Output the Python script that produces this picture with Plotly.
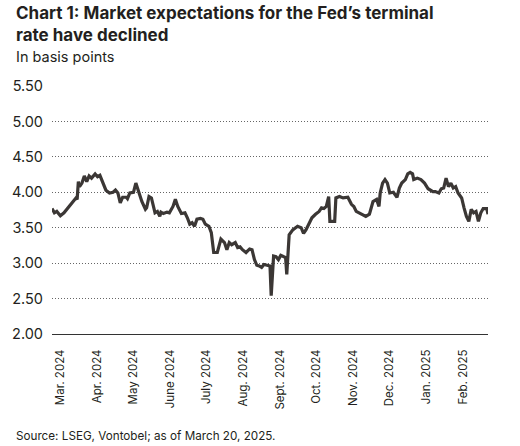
import plotly.graph_objects as go

# terminal rate expectations
dates = [
    "2024-03-01", "2024-03-03", "2024-03-05", "2024-03-08", "2024-03-11", "2024-03-15",
    "2024-03-18", "2024-03-21", "2024-03-22", "2024-03-23", "2024-03-24", "2024-03-26",
    "2024-03-28", "2024-03-30", "2024-04-01", "2024-04-03", "2024-04-06", "2024-04-08",
    "2024-04-10", "2024-04-12", "2024-04-15", "2024-04-18", "2024-04-21", "2024-04-23",
    "2024-04-25", "2024-04-27", "2024-04-29", "2024-05-02", "2024-05-03", "2024-05-05",
    "2024-05-08", "2024-05-10", "2024-05-12", "2024-05-15", "2024-05-18", "2024-05-19",
    "2024-05-21", "2024-05-23", "2024-05-26", "2024-05-28", "2024-05-30", "2024-05-31",
    "2024-06-02", "2024-06-05", "2024-06-07", "2024-06-09", "2024-06-10", "2024-06-12",
    "2024-06-14", "2024-06-17", "2024-06-20", "2024-06-22", "2024-06-24", "2024-06-26",
    "2024-06-28", "2024-06-30", "2024-07-03", "2024-07-05", "2024-07-07", "2024-07-10",
    "2024-07-12", "2024-07-14", "2024-07-17", "2024-07-20", "2024-07-23", "2024-07-25",
    "2024-07-27", "2024-07-29", "2024-08-01", "2024-08-03", "2024-08-05", "2024-08-07",
    "2024-08-10", "2024-08-13", "2024-08-15", "2024-08-17", "2024-08-19", "2024-08-21",
    "2024-08-23", "2024-08-25", "2024-08-29", "2024-08-30", "2024-08-31", "2024-09-02",
    "2024-09-04", "2024-09-06", "2024-09-08", "2024-09-10", "2024-09-12", "2024-09-13",
    "2024-09-14", "2024-09-15", "2024-09-18", "2024-09-20", "2024-09-22", "2024-09-25",
    "2024-09-27", "2024-09-29", "2024-10-02", "2024-10-04", "2024-10-07", "2024-10-10",
    "2024-10-12", "2024-10-14", "2024-10-16", "2024-10-18", "2024-10-19", "2024-10-23",
    "2024-10-24", "2024-10-27", "2024-10-30", "2024-11-03", "2024-11-06", "2024-11-08",
    "2024-11-10", "2024-11-13", "2024-11-15", "2024-11-18", "2024-11-21", "2024-11-23",
    "2024-11-24", "2024-11-27", "2024-11-29", "2024-11-30", "2024-12-02", "2024-12-04",
    "2024-12-06", "2024-12-08", "2024-12-11", "2024-12-14", "2024-12-16", "2024-12-18",
    "2024-12-21", "2024-12-23", "2024-12-25", "2024-12-27", "2024-12-28", "2024-12-31",
    "2025-01-03", "2025-01-06", "2025-01-09", "2025-01-13", "2025-01-15", "2025-01-18",
    "2025-01-20", "2025-01-22", "2025-01-24", "2025-01-26", "2025-01-28", "2025-01-30",
    "2025-02-01", "2025-02-03", "2025-02-06", "2025-02-08", "2025-02-10", "2025-02-12",
    "2025-02-14", "2025-02-16", "2025-02-18", "2025-02-20", "2025-02-22", "2025-02-24",
    "2025-02-27", "2025-02-28",
]
terminal_rate = [
    3.77, 3.71, 3.73, 3.67, 3.71, 3.80,
    3.87, 3.92, 3.90, 4.15, 4.08, 4.13,
    4.23, 4.15, 4.23, 4.20, 4.26, 4.22,
    4.24, 4.15, 4.03, 3.99, 4.00, 4.03,
    3.99, 3.85, 3.93, 3.93, 3.91, 3.99,
    4.00, 4.13, 4.01, 3.87, 3.76, 3.78,
    3.94, 3.92, 3.71, 3.73, 3.66, 3.72,
    3.70, 3.72, 3.71, 3.78, 3.80, 3.90,
    3.80, 3.70, 3.71, 3.64, 3.55, 3.57,
    3.52, 3.62, 3.63, 3.62, 3.55, 3.52,
    3.43, 3.15, 3.15, 3.34, 3.29, 3.19,
    3.29, 3.26, 3.29, 3.22, 3.23, 3.19,
    3.15, 3.20, 3.19, 3.05, 2.97, 2.96,
    2.94, 2.98, 2.97, 2.96, 2.54, 3.10,
    3.09, 3.05, 3.11, 3.10, 3.08, 2.84,
    3.10, 3.40, 3.47, 3.50, 3.52, 3.50,
    3.42, 3.47, 3.57, 3.64, 3.69, 3.73,
    3.78, 3.77, 3.80, 3.94, 3.59, 3.59,
    3.92, 3.94, 3.92, 3.93, 3.83, 3.80,
    3.73, 3.70, 3.69, 3.66, 3.69, 3.80,
    3.87, 3.90, 3.80, 3.99, 4.13, 4.18,
    4.13, 3.99, 4.00, 3.93, 4.06, 4.13,
    4.18, 4.26, 4.28, 4.26, 4.18, 4.20,
    4.18, 4.13, 4.05, 4.01, 4.01, 3.99,
    4.05, 4.06, 4.20, 4.08, 4.13, 4.06,
    4.08, 3.99, 3.92, 3.78, 3.66, 3.59,
    3.76, 3.71, 3.73, 3.59, 3.71, 3.77,
    3.77, 3.69,
]

month_ticks = [
    "2024-03-01", "2024-04-01", "2024-05-01", "2024-06-01", "2024-07-01", "2024-08-01",
    "2024-09-01", "2024-10-01", "2024-11-01", "2024-12-01", "2025-01-01", "2025-02-01",
]
month_labels = [
    "Mar. 2024", "Apr. 2024", "May 2024", "June 2024", "July 2024", "Aug. 2024",
    "Sept. 2024", "Oct. 2024", "Nov. 2024", "Dec. 2024", "Jan. 2025", "Feb. 2025",
]
y_ticks = [2.0, 2.5, 3.0, 3.5, 4.0, 4.5, 5.0, 5.5]

font = "Inter, Liberation Sans, Arial, sans-serif"
ink = "#231f20"

# plot box in page pixels
left, right, top, bottom = 39, 488, 86, 334
pw, ph = right - left, bottom - top

fig = go.Figure()
fig.add_trace(go.Scatter(
    x=dates,
    y=terminal_rate,
    mode="lines",
    line=dict(color="#3b3735", width=3.2),
    hoverinfo="skip",
))

fig.update_layout(
    width=520,
    height=446,
    margin=dict(l=left, r=520 - right, t=top, b=446 - bottom, pad=0),
    paper_bgcolor="white",
    plot_bgcolor="white",
    showlegend=False,
    hovermode=False,
    font=dict(family=font, color=ink, size=13),
    xaxis=dict(
        range=["2024-03-01", "2025-02-28"],
        tickvals=month_ticks,
        ticktext=month_labels,
        tickangle=-90,
        ticklabelshift=8,
        ticklabelstandoff=10,
        showgrid=False,
        showline=True,
        linecolor="#333333",
        linewidth=1,
        ticks="",
        tickfont=dict(size=11.5, color=ink),
    ),
    yaxis=dict(
        range=[2.0, 5.5],
        tickvals=y_ticks,
        tickformat=".2f",
        showgrid=True,
        gridcolor="#666666",
        gridwidth=1,
        griddash="1px,2px",
        zeroline=False,
        ticks="",
        ticklabelstandoff=8,
        tickfont=dict(size=14.5, color=ink),
    ),
    annotations=[
        dict(
            text="<b>Chart 1: Market expectations for the Fed’s terminal<br>rate have declined</b>",
            x=(0 - left) / pw, xref="paper", xanchor="left",
            y=1 + (top - 1) / ph, yref="paper", yanchor="top",
            align="left", showarrow=False,
            font=dict(size=17, color=ink),
        ),
        dict(
            text="In basis points",
            x=(0 - left) / pw, xref="paper", xanchor="left",
            y=1 + (top - 46) / ph, yref="paper", yanchor="top",
            showarrow=False,
            font=dict(size=14.5, color=ink),
        ),
        dict(
            text="Source: LSEG, Vontobel; as of March 20, 2025.",
            x=(0 - left) / pw, xref="paper", xanchor="left",
            y=-(427 - bottom) / ph, yref="paper", yanchor="top",
            showarrow=False,
            font=dict(size=11.7, color=ink),
        ),
    ],
)

# drop the browser's default body margin so the figure sits at the page corner
fig.write_html(
    "out.html",
    config={"displayModeBar": False, "staticPlot": True},
    post_script="document.body.style.margin='0';",
)
